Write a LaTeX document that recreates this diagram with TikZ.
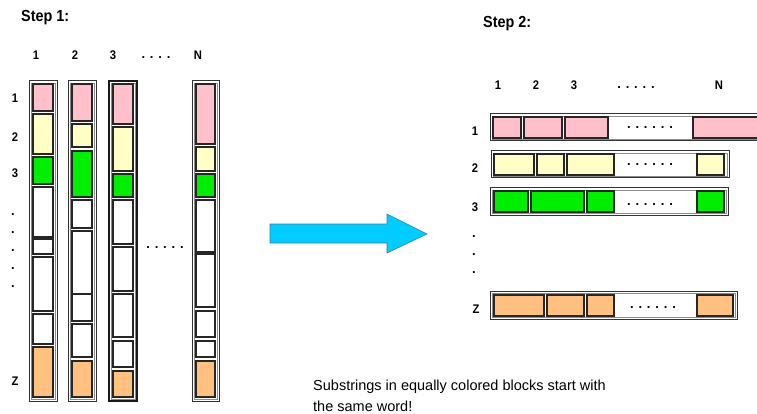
\documentclass[tikz,border=0pt]{standalone}
\usepackage{fontspec}
\setmainfont{Liberation Sans}
\newfontfamily\labelfont[FakeStretch=0.9]{Liberation Sans}
\usetikzlibrary{calc}

\definecolor{cellpink}{HTML}{FFC0CB}
\definecolor{cellyellow}{HTML}{FFFFC6}
\definecolor{cellgreen}{HTML}{00EE00}
\definecolor{cellorange}{HTML}{FFC080}
\definecolor{arrowcyan}{HTML}{00CCFF}
\definecolor{arrowedge}{HTML}{3F7F9F}

% a framed strip: dark outer line with a lighter line just inside it
\newcommand\strip[5][frameout]{%
  \draw[#1] (#2,#3) rectangle (#4,#5);
  \draw[framein] ($(#2,#3)+(2,2)$) rectangle ($(#4,#5)+(-2,-2)$);}
% cells stacked in a column: left, right, {top/bottom/colour,...}
\newcommand\vcells[3]{%
  \foreach \ya/\yb/\cc in {#3} {\draw[cell,fill=\cc] (#1,\ya) rectangle (#2,\yb);}}
% cells side by side in a row: top, bottom, {left/right/colour,...}
\newcommand\hcells[3]{%
  \foreach \xa/\xb/\cc in {#3} {\draw[cell,fill=\cc] (\xa,#1) rectangle (\xb,#2);}}

\begin{document}
\begin{tikzpicture}[x=1pt,y=-1pt,
  frameout/.style={draw=black!80,line width=1pt},
  framebold/.style={draw=black!90,line width=1.8pt},
  framein/.style={draw=black!45,line width=0.8pt},
  cell/.style={draw=black!85,line width=1.4pt},
  steplabel/.style={font=\labelfont\bfseries\fontsize{16}{18}\selectfont,inner sep=0pt},
  idx/.style={font=\labelfont\bfseries\fontsize{12.5}{14}\selectfont,inner sep=0pt},
  dotsrow/.style={font=\bfseries\fontsize{13}{14}\selectfont,inner sep=0pt},
  note/.style={font=\fontsize{14.5}{21}\selectfont,inner sep=0pt,align=left}]
\useasboundingbox (0,0) rectangle (757,414);
\clip (0,0) rectangle (757,414);

% ---------------- Step 1: one column per document ----------------
\node[steplabel,anchor=west] (step1) at (21,18) {Step 1:};

\node[idx] (h1) at (36,55) {1};
\node[idx] (h2) at (75,55) {2};
\node[idx] (h3) at (113,55) {3};
\node[dotsrow] (hdots) at (156,58) {. . . .};
\node[idx] (hN) at (198,55) {N};

\node[idx] (r1) at (15,98) {1};
\node[idx] (r2) at (15,137) {2};
\node[idx] (r3) at (15,173) {3};
\foreach \yy [count=\i] in {215,233,251,269,287}
  \node[dotsrow] (rdot\i) at (13,\yy) {.};
\node[idx] (rZ) at (15,381) {Z};

\strip{29}{81}{57}{401}
\vcells{33}{53}{84/111/cellpink,114/154/cellyellow,157/184/cellgreen,
  187/237/white,239/254/white,257/311/white,314/344/white,347/397/cellorange}

\strip{68}{81}{96}{401}
\vcells{72}{92}{84/121/cellpink,124/147/cellyellow,151/197/cellgreen,
  200/228/white,231/294/white,294/321/white,324/357/white,361/397/cellorange}

\strip[framebold]{109}{81}{137}{401}
\vcells{113}{133}{84/124/cellpink,127/171/cellyellow,174/197/cellgreen,
  200/244/white,247/291/white,294/337/white,341/367/white,371/397/cellorange}

\node[dotsrow] (mdots) at (165,248) {. . . . .};

\strip{192}{81}{219}{401}
\vcells{196}{215}{84/144/cellpink,147/171/cellyellow,174/197/cellgreen,
  200/252/white,254/307/white,311/337/white,341/357/white,361/397/cellorange}

% ---------------- transition arrow ----------------
\draw[fill=arrowcyan,draw=arrowedge,line width=0.6pt]
  (270,224) -- (387,224) -- (387,214) -- (427,234) -- (387,253)
  -- (387,243) -- (270,243) -- cycle;

% ---------------- Step 2: one row per first word ----------------
\node[steplabel,anchor=west] (step2) at (483,24) {Step 2:};

\node[idx] (k1) at (498,85) {1};
\node[idx] (k2) at (536,85) {2};
\node[idx] (k3) at (574,85) {3};
\node[dotsrow] (kdots) at (636,88) {. . . . .};
\node[idx] (kN) at (719,85) {N};

\node[idx] (w1) at (475,131) {1};
\node[idx] (w2) at (475,168) {2};
\node[idx] (w3) at (475,207) {3};
\foreach \yy [count=\i] in {237,255,273}
  \node[dotsrow] (wdot\i) at (474,\yy) {.};
\node[idx] (wZ) at (476,309) {Z};

\strip{490}{114}{775}{141}
\hcells{117}{138}{493/521/cellpink,524/562/cellpink,565/608/cellpink,693/775/cellpink}
\node[dotsrow] (d1) at (650,128) {. . . . . .};

\strip{491}{151}{729}{178}
\hcells{154}{175}{494/534/cellyellow,537/564/cellyellow,567/614/cellyellow,697/724/cellyellow}
\node[dotsrow] (d2) at (650,165) {. . . . . .};

\strip{490}{188}{728}{215}
\hcells{191}{212}{494/528/cellgreen,531/584/cellgreen,587/614/cellgreen,697/724/cellgreen}
\node[dotsrow] (d3) at (650,205) {. . . . . .};

\strip{490}{291}{737}{319}
\hcells{295}{316}{494/544/cellorange,547/584/cellorange,587/614/cellorange,697/733/cellorange}
\node[dotsrow] (dZ) at (653,308) {. . . . . .};

% ---------------- remark ----------------
\node[note,anchor=north west] (remark) at (313,379.5)
  {Substrings in equally colored blocks start with\\the same word!};
\end{tikzpicture}
\end{document}
